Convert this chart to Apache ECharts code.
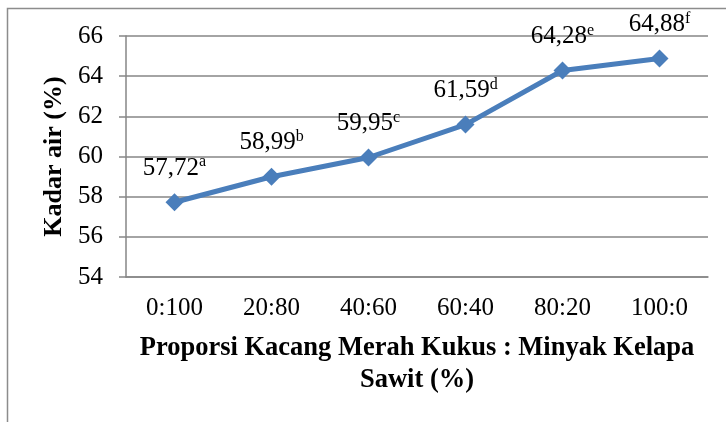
<!DOCTYPE html>
<html>
<head>
<meta charset="utf-8">
<script src="https://cdn.jsdelivr.net/npm/echarts@6/dist/echarts.min.js"></script>
<style>html,body{margin:0;padding:0;background:#fff;}#c{width:726px;height:422px;}</style>
</head>
<body>
<div id="c"></div>
<script>
const categories = ['0:100', '20:80', '40:60', '60:40', '80:20', '100:0'];
const values = [57.72, 58.99, 59.95, 61.59, 64.28, 64.88];
const valueTexts = ['57,72', '58,99', '59,95', '61,59', '64,28', '64,88'];
const letters = ['a', 'b', 'c', 'd', 'e', 'f'];

const chart = echarts.init(document.getElementById('c'), null, {renderer: 'canvas'});
const font = '"Liberation Serif", "Times New Roman", serif';
chart.setOption({
  animation: false,
  backgroundColor: '#fff',
  textStyle: {fontFamily: font},
  graphic: [{
    type: 'rect', left: 5, top: 6, shape: {width: 760, height: 460},
    style: {fill: 'none', stroke: '#8c8c8c', lineWidth: 1.5}, silent: true
  }],
  grid: {left: 126, right: 18, top: 36, bottom: 145},
  xAxis: {
    type: 'category', data: categories, boundaryGap: true,
    axisLine: {lineStyle: {color: '#868686', width: 1.5}},
    axisTick: {show: false},
    axisLabel: {color: '#000', fontSize: 25, fontFamily: font, margin: 19},
    name: 'Proporsi Kacang Merah Kukus : Minyak Kelapa\nSawit (%)',
    nameLocation: 'middle', nameGap: 55,
    nameTextStyle: {color: '#000', fontSize: 26.5, fontWeight: 'bold', fontFamily: font, lineHeight: 32}
  },
  yAxis: {
    type: 'value', min: 54, max: 66, interval: 2,
    axisLine: {show: true, lineStyle: {color: '#868686', width: 1.5}},
    axisTick: {show: true, inside: false, length: 7, lineStyle: {color: '#868686', width: 1.5}},
    splitLine: {lineStyle: {color: '#868686', width: 1.5}},
    axisLabel: {color: '#000', fontSize: 25, fontFamily: font, margin: 23},
    name: 'Kadar air (%)', nameLocation: 'middle', nameGap: 59,
    nameTextStyle: {color: '#000', fontSize: 26, fontWeight: 'bold', fontFamily: font}
  },
  series: [{
    type: 'line', data: values,
    symbol: 'diamond', symbolSize: 18,
    lineStyle: {color: '#4a7ebb', width: 5},
    itemStyle: {color: '#4a7ebb'},
    label: {
      show: true, position: 'top', distance: 11,
      formatter: p => '{v|' + valueTexts[p.dataIndex] + '}{s|' + letters[p.dataIndex] + '}',
      rich: {
        v: {fontSize: 25, color: '#000', fontFamily: font, lineHeight: 28},
        s: {fontSize: 16, color: '#000', fontFamily: font, verticalAlign: 'top', lineHeight: 28}
      }
    }
  }]
});
</script>
</body>
</html>
